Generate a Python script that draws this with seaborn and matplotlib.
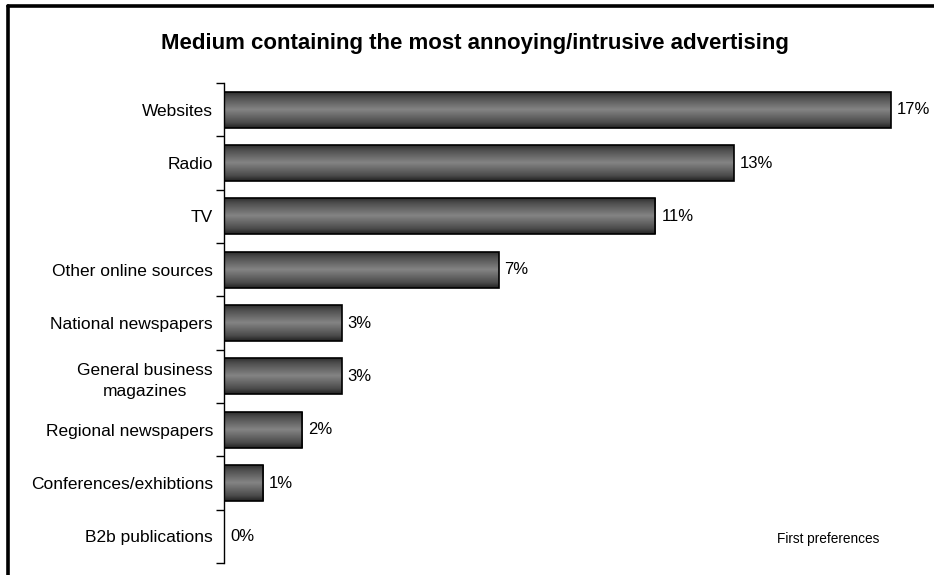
import numpy as np
import pandas as pd
import seaborn as sns
import matplotlib.pyplot as plt
from matplotlib.colors import LinearSegmentedColormap
from matplotlib.lines import Line2D

#%% Dados

categorias = ['Websites', 'Radio', 'TV', 'Other online sources', 'National newspapers',
              'General business\nmagazines', 'Regional newspapers',
              'Conferences/exhibtions', 'B2b publications']
percentuais = [17, 13, 11, 7, 3, 3, 2, 1, 0]
rotulos = ['17%', '13%', '11%', '7%', '3%', '3%', '2%', '1%', '0%']

titulo = 'Medium containing the most annoying/intrusive advertising'
nota = 'First preferences'

df = pd.DataFrame({'Meio': categorias, 'Perc': percentuais})

#%% Gráfico

sns.set_style('white')
plt.rcParams['font.family'] = ['Liberation Sans', 'DejaVu Sans']
plt.rcParams['text.color'] = 'black'
plt.rcParams['ytick.color'] = 'black'
plt.rcParams['ytick.labelcolor'] = 'black'

fig = plt.figure(figsize=(9.34, 5.75), dpi=100)
ax = fig.add_axes([224 / 934, 12 / 575, (930 - 224) / 934, (563 - 83) / 575])

sns.barplot(data=df, x='Perc', y='Meio', orient='h', color='#6e6e6e',
            width=0.68, edgecolor='black', linewidth=1.2, ax=ax)

# degradê vertical nas barras (escuro nas bordas, claro no meio)
cmap = LinearSegmentedColormap.from_list(
    'cil', [(0, '#262626'), (0.15, '#4c4c4c'), (0.5, '#848484'), (0.85, '#4c4c4c'), (1, '#222222')])
grad = np.linspace(0, 1, 200).reshape(-1, 1)
for p in ax.patches:
    x0, y0 = p.get_x(), p.get_y()
    w, h = p.get_width(), p.get_height()
    if w <= 0:
        p.set_visible(False)
        continue
    im = ax.imshow(grad, cmap=cmap, aspect='auto', extent=(x0, x0 + w, y0 + h, y0),
                   zorder=p.get_zorder() + 0.1, interpolation='bilinear')
    im.set_clip_path(p)
    p.set_facecolor('none')
    p.set_zorder(p.get_zorder() + 0.2)

ax.set_xlim(0, 18)
ax.set_ylim(len(categorias) - 0.5, -0.5)

for i, (v, r) in enumerate(zip(percentuais, rotulos)):
    ax.text(v + 0.15, i, r, va='center', ha='left', fontsize=12)

ax.set_xlabel('')
ax.set_ylabel('')
ax.set_xticks([])
ax.tick_params(axis='y', which='major', left=False, length=0, pad=8, labelsize=12.5)
ax.set_yticks(np.arange(-0.5, len(categorias), 1), minor=True)
ax.tick_params(axis='y', which='minor', left=True, length=6, width=1, direction='out', color='black')
for lbl in ax.get_yticklabels():
    lbl.set_multialignment('center')
    lbl.set_linespacing(1.5)

for s in ['top', 'right', 'bottom']:
    ax.spines[s].set_visible(False)
ax.spines['left'].set_color('black')
ax.spines['left'].set_linewidth(1)

fig.text(475 / 934, 1 - 43 / 575, titulo, ha='center', va='center',
         fontsize=16, fontweight='bold')
fig.text(828 / 934, 1 - 539 / 575, nota, ha='center', va='center', fontsize=9.8)

# moldura (só topo e esquerda aparecem)
fig.add_artist(Line2D([7.5 / 934, 1], [1 - 5.5 / 575, 1 - 5.5 / 575], color='black', lw=2.6,
                      transform=fig.transFigure))
fig.add_artist(Line2D([7.5 / 934, 7.5 / 934], [0, 1 - 5.5 / 575], color='black', lw=2.6,
                      transform=fig.transFigure))

fig.savefig('out.png', dpi=100, facecolor='white')
